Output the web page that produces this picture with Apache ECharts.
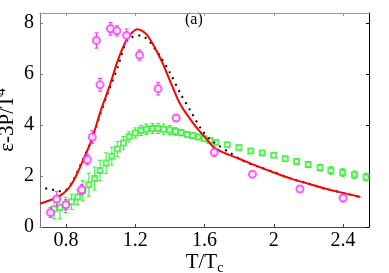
<!DOCTYPE html>
<html><head><meta charset="utf-8">
<script src="https://cdn.jsdelivr.net/npm/echarts@6/dist/echarts.min.js"></script>
<style>html,body{margin:0;padding:0;background:#fff}#c{width:389px;height:273px}</style>
</head><body><div id="c"></div>
<script>
const xTicks = [0.8, 1.2, 1.6, 2.0, 2.4];
const xTickLabels = ['0.8', '1.2', '1.6', '2', '2.4'];
const yTicks = [0, 2, 4, 6, 8];
const yTickLabels = ['0', '2', '4', '6', '8'];

const magX = [0.711, 0.746, 0.80, 0.891, 0.923, 0.952, 0.976, 0.997, 1.057, 1.094, 1.150, 1.225, 1.332, 1.436, 1.656, 1.877, 2.151, 2.40];
const magY = [0.57, 1.10, 0.87, 1.46, 2.64, 3.53, 7.32, 5.58, 7.78, 7.70, 7.52, 6.75, 5.43, 4.28, 2.93, 2.07, 1.49, 1.14];
const magErr = [0.2, 0.3, 0.2, 0.2, 0.2, 0.25, 0.3, 0.25, 0.25, 0.2, 0.25, 0.2, 0.25, 0.12, 0.15, 0.1, 0.08, 0.15];

const grnX = [0.732, 0.765, 0.798, 0.833, 0.868, 0.897, 0.932, 0.966, 0.997, 1.032, 1.065, 1.097, 1.132, 1.165, 1.200, 1.233, 1.264, 1.299, 1.332, 1.364, 1.399, 1.432, 1.465, 1.500, 1.532, 1.565, 1.598, 1.631, 1.666, 1.731, 1.799, 1.867, 1.934, 2.000, 2.066, 2.132, 2.199, 2.267, 2.330, 2.398, 2.466, 2.533];
const grnY = [0.72, 0.77, 0.87, 0.99, 1.18, 1.42, 1.66, 1.90, 2.22, 2.51, 2.78, 3.06, 3.30, 3.54, 3.69, 3.79, 3.84, 3.87, 3.87, 3.84, 3.81, 3.75, 3.70, 3.63, 3.59, 3.53, 3.46, 3.40, 3.32, 3.23, 3.12, 2.98, 2.90, 2.82, 2.68, 2.57, 2.45, 2.34, 2.22, 2.14, 2.05, 1.96];
const grnErr = [0.4, 0.45, 0.3, 0.3, 0.3, 0.4, 0.45, 0.45, 0.4, 0.4, 0.35, 0.3, 0.25, 0.2, 0.2, 0.2, 0.2, 0.2, 0.2, 0.2, 0.18, 0.15, 0.12, 0.1, 0.1, 0.1, 0.08, 0.08, 0.08, 0.08, 0.08, 0.08, 0.08, 0.08, 0.1, 0.1, 0.12, 0.12, 0.15, 0.15, 0.15, 0.15];

const redX = [0.65, 0.70, 0.74, 0.77, 0.80, 0.83, 0.86, 0.90, 0.95, 1.00, 1.05, 1.10, 1.15, 1.18, 1.21, 1.24, 1.27, 1.30, 1.33, 1.36, 1.40, 1.44, 1.47, 1.50, 1.53, 1.56, 1.60, 1.65, 1.70, 1.80, 1.90, 2.00, 2.10, 2.20, 2.30, 2.40, 2.50];
const redY = [0.92, 1.03, 1.14, 1.25, 1.41, 1.66, 2.03, 2.64, 3.45, 4.55, 5.50, 6.55, 7.35, 7.62, 7.76, 7.70, 7.52, 7.20, 6.82, 6.40, 5.75, 5.10, 4.70, 4.40, 4.12, 3.85, 3.55, 3.15, 2.95, 2.68, 2.40, 2.14, 1.90, 1.70, 1.50, 1.34, 1.18];

const dotX = [0.68, 0.71, 0.74, 0.765, 0.80, 0.83, 0.86, 0.90, 0.95, 1.00, 1.05, 1.10, 1.15, 1.19, 1.23, 1.26, 1.29, 1.345, 1.40, 1.46, 1.52, 1.58, 1.635, 1.69, 1.75, 1.83, 1.905, 2.00, 2.10, 2.20, 2.30, 2.40, 2.50];
const dotY = [1.52, 1.48, 1.44, 1.40, 1.45, 1.70, 2.08, 2.68, 3.45, 4.48, 5.40, 6.30, 7.30, 7.48, 7.52, 7.42, 7.21, 6.69, 6.06, 5.25, 4.55, 3.85, 3.42, 3.16, 2.90, 2.57, 2.38, 2.16, 1.90, 1.70, 1.50, 1.34, 1.18];

const zip = (a, b, c) => a.map((v, i) => c ? [v, b[i], c[i]] : [v, b[i]]);
const serif = '"Liberation Serif", "DejaVu Serif", serif';
const MAG = '#ff33ff', GRN = '#33ee33';

function errBar(color) {
  return function (params, api) {
    const x = api.value(0), y = api.value(1), e = api.value(2);
    const t = api.coord([x, y + e]), b = api.coord([x, y - e]);
    const c = 2;
    const st = { stroke: color, lineWidth: 1 };
    return { type: 'group', children: [
      { type: 'line', shape: { x1: t[0], y1: t[1], x2: b[0], y2: b[1] }, style: st },
      { type: 'line', shape: { x1: t[0] - c, y1: t[1], x2: t[0] + c, y2: t[1] }, style: st },
      { type: 'line', shape: { x1: b[0] - c, y1: b[1], x2: b[0] + c, y2: b[1] }, style: st }
    ] };
  };
}
const fmt = (ticks, labels) => v => { const i = ticks.findIndex(t => Math.abs(t - v) < 1e-6); return i >= 0 ? labels[i] : ''; };

const chart = echarts.init(document.getElementById('c'), null, { renderer: 'canvas' });
chart.setOption({
  animation: false,
  backgroundColor: '#fff',
  grid: { left: 40, right: 20, top: 13, bottom: 46, containLabel: false, outerBoundsMode: 'none' },
  xAxis: [
    { type: 'value', min: 0.65, max: 2.55, position: 'bottom',
      axisLine: { show: true, onZero: false, lineStyle: { color: '#444', width: 1 } },
      axisTick: { show: true, inside: true, length: 3, customValues: xTicks, lineStyle: { color: '#444' } },
      axisLabel: { customValues: xTicks, formatter: fmt(xTicks, xTickLabels), margin: 4, color: '#000', fontFamily: serif, fontSize: 20 },
      splitLine: { show: false },
      name: '{a|T/T}{b|c}', nameLocation: 'middle', nameGap: 22, nameMoveOverlap: false,
      nameTextStyle: { color: '#000', rich: { a: { fontFamily: serif, fontSize: 21, color: '#000' }, b: { fontFamily: serif, fontSize: 14, color: '#000', padding: [12, 0, 0, 0] } } }
    },
    { type: 'value', min: 0.65, max: 2.55, position: 'top',
      axisLine: { show: true, onZero: false, lineStyle: { color: '#999', width: 1 } },
      axisTick: { show: true, inside: true, length: 3, customValues: xTicks, lineStyle: { color: '#999' } },
      axisLabel: { show: false }, splitLine: { show: false } }
  ],
  yAxis: [
    { type: 'value', min: 0, max: 8.4, position: 'left',
      axisLine: { show: true, onZero: false, lineStyle: { color: '#777', width: 1 } },
      axisTick: { show: true, inside: true, length: 3, customValues: yTicks, lineStyle: { color: '#777' } },
      axisLabel: { customValues: yTicks, formatter: fmt(yTicks, yTickLabels), margin: 6, color: '#000', fontFamily: serif, fontSize: 20 },
      splitLine: { show: false },
      name: '{a|ε-3P/T}{b|4}', nameLocation: 'middle', nameGap: 20, nameRotate: 90, nameMoveOverlap: false,
      nameTextStyle: { color: '#000', rich: { a: { fontFamily: serif, fontSize: 21, color: '#000' }, b: { fontFamily: serif, fontSize: 14, color: '#000', padding: [0, 0, 12, 0] } } }
    },
    { type: 'value', min: 0, max: 8.4, position: 'right',
      axisLine: { show: true, onZero: false, lineStyle: { color: '#000', width: 1 } },
      axisTick: { show: true, inside: true, length: 3, customValues: yTicks, lineStyle: { color: '#000' } },
      axisLabel: { show: false }, splitLine: { show: false } }
  ],
  graphic: [
    { type: 'text', left: 185, top: 12, style: { text: '(a)', fontFamily: serif, fontSize: 16, fill: '#000' } }
  ],
  series: [
    { type: 'custom', name: 'grnErr', xAxisIndex: 0, yAxisIndex: 0, renderItem: errBar(GRN), data: zip(grnX, grnY, grnErr), z: 2 },
    { type: 'scatter', name: 'grn', data: zip(grnX, grnY), symbol: 'emptyRect', symbolSize: 5, itemStyle: { color: GRN, borderColor: GRN, borderWidth: 1 }, z: 3 },
    { type: 'line', name: 'dot', data: zip(dotX, dotY), showSymbol: false, smooth: 0.3, lineStyle: { color: '#000', width: 2, type: [2, 5] }, z: 4 },
    { type: 'line', name: 'red', data: zip(redX, redY), showSymbol: false, smooth: 0.3, lineStyle: { color: '#ff0000', width: 2 }, z: 5 },
    { type: 'custom', name: 'magErr', renderItem: errBar(MAG), data: zip(magX, magY, magErr), z: 6 },
    { type: 'scatter', name: 'mag', data: zip(magX, magY), symbol: 'emptyCircle', symbolSize: 7, itemStyle: { color: MAG, borderColor: MAG, borderWidth: 1 }, z: 7 }
  ]
});
</script></body></html>
